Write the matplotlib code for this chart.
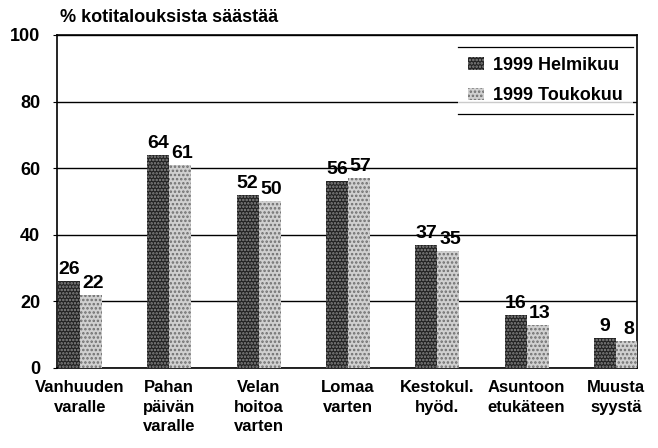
import matplotlib.pyplot as plt
from matplotlib.lines import Line2D
import numpy as np

# categories and values
categories = ["Vanhuuden\nvaralle", "Pahan\npäivän\nvaralle", "Velan\nhoitoa\nvarten",
              "Lomaa\nvarten", "Kestokul.\nhyöd.", "Asuntoon\netukäteen", "Muusta\nsyystä"]
helmikuu = [26, 64, 52, 56, 37, 16, 9]
toukokuu = [22, 61, 50, 57, 35, 13, 8]
yticks = [0, 20, 40, 60, 80, 100]

plt.rcParams['font.family'] = ['Liberation Sans', 'DejaVu Sans']
plt.rcParams['font.weight'] = 'bold'
plt.rcParams['hatch.linewidth'] = 1.2

fig = plt.figure(figsize=(6.58, 4.48), dpi=100)
ax = fig.add_axes([0.0866, 0.1786, 0.8814, 0.7434])

x = np.arange(len(categories))
w = 0.246

b1 = ax.bar(x - w/2, helmikuu, w, facecolor='#222222', edgecolor='#8a8a8a',
            hatch='.....', linewidth=0, label='1999 Helmikuu', zorder=3)
b2 = ax.bar(x + w/2, toukokuu, w, facecolor='#d0d0d0', edgecolor='#6e6e6e',
            hatch='....', linewidth=0, label='1999 Toukokuu', zorder=3)

# value labels above bars
for rect, v in zip(b1, helmikuu):
    ax.text(rect.get_x() + rect.get_width()/2, v + 0.9, str(v), ha='center', va='bottom',
            fontsize=14, fontweight='bold', zorder=4)
for rect, v in zip(b2, toukokuu):
    ax.text(rect.get_x() + rect.get_width()/2 + 0.02, v + 0.9, str(v), ha='center', va='bottom',
            fontsize=14, fontweight='bold', zorder=4)

ax.set_xlim(-0.257, 6.235)
ax.set_ylim(0, 100)
ax.set_yticks(yticks)
ax.yaxis.grid(True, color='black', linewidth=1.0, zorder=0)
ax.set_axisbelow(True)
ax.tick_params(axis='y', length=3, width=0.8, labelsize=13, pad=9)
ax.set_xticks(x)
ax.set_xticklabels(categories, fontsize=12, fontweight='bold', linespacing=1.35)
ax.tick_params(axis='x', length=0, pad=9)
for s in ax.spines.values():
    s.set_linewidth(1.2)
    s.set_color('black')

ax.text(0.005, 1.039, "% kotitalouksista säästää", transform=ax.transAxes,
        fontsize=13, fontweight='bold', ha='left', va='baseline')

leg = ax.legend(loc='upper right', bbox_to_anchor=(0.993, 0.964), fontsize=13,
                frameon=True, fancybox=False, handlelength=0.9, handleheight=0.7,
                handletextpad=0.5, borderpad=0.55, labelspacing=0.75, borderaxespad=0)
leg.get_frame().set_edgecolor('none')
for t in leg.get_texts():
    t.set_fontweight('bold')

# legend box only has top and bottom rules
fig.canvas.draw()
bb = leg.get_window_extent().transformed(fig.transFigure.inverted())
for yy in (bb.y0, bb.y1):
    fig.add_artist(Line2D([bb.x0, bb.x1], [yy, yy], color='black', linewidth=0.9, zorder=6))

fig.savefig('out.png', dpi=100)
